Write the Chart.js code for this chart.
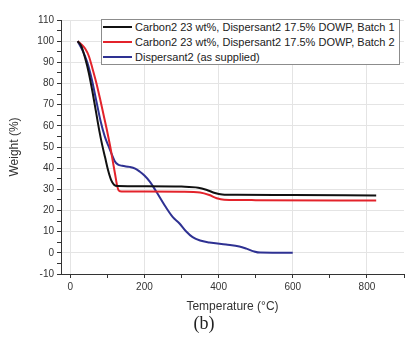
<!DOCTYPE html>
<html>
  <head>
    <meta charset="UTF-8" />
    <title>TGA curves</title>
    <script src="https://cdn.jsdelivr.net/npm/chart.js"></script>
    <style type="text/css">
      body{ margin:0; background:#fff; }
      #wrap{ position:relative; width:411px; height:343px; }
      #legend{
        position:absolute; left:101px; top:19px; width:297px; height:44px;
        border:1px solid #8c8c8c; background:#fff;
        font:11px "Liberation Sans", Arial, sans-serif; color:#222;
      }
      #legend .row{ height:15px; line-height:15px; white-space:nowrap; }
      #legend .swatch{ display:inline-block; width:29px; height:2px; vertical-align:middle; margin:0 3px 2px 1px; }
      #panel{
        position:absolute; left:190px; top:313px; width:28px; text-align:center;
        font:18px "Liberation Serif", "DejaVu Serif", serif; color:#222;
      }
    </style>
  </head>
  <body>
    <div id="wrap">
      <canvas id="tga" width="411" height="343"></canvas>
      <div id="legend"></div>
      <div id="panel">(b)</div>
    </div>

    <script>
      // values
      var seriesLabels = [
        "Carbon2 23 wt%, Dispersant2 17.5% DOWP, Batch 1",
        "Carbon2 23 wt%, Dispersant2 17.5% DOWP, Batch 2",
        "Dispersant2 (as supplied)"
      ];
      var seriesColors = ["#111111", "#e3232b", "#2e3192"];

      var batch1Temp   = [20, 30, 40, 50, 60, 70, 78, 86, 94, 102, 110, 118, 128, 200, 300, 345, 370, 390, 410, 450, 600, 825];
      var batch1Weight = [100, 97.5, 92, 85, 76, 66, 58, 51, 45, 39, 34.5, 32.2, 31.6, 31.5, 31.3, 30.8, 29.6, 28.3, 27.6, 27.4, 27.3, 27.1];

      var batch2Temp   = [20, 30, 40, 50, 60, 70, 80, 90, 100, 108, 115, 121, 126, 130, 134, 145, 200, 300, 350, 375, 395, 415, 500, 825];
      var batch2Weight = [100, 98.5, 96.5, 93, 87, 80.5, 73, 65, 57, 50, 43, 37, 32, 29.6, 29.1, 29, 29, 28.9, 28.5, 27.3, 25.8, 25.1, 24.9, 24.7];

      var dispTemp   = [20, 32, 45, 58, 70, 82, 93, 103, 112, 120, 128, 140, 160, 175, 187, 200, 215, 231, 258, 276, 294, 312, 330, 350, 375, 420, 456, 475, 495, 512, 600];
      var dispWeight = [100, 96, 90.5, 82, 72, 62, 55, 50.5, 46.5, 43.3, 41.8, 41.1, 40.6, 39.8, 38.4, 36.5, 33.5, 29.2, 21.5, 17, 14, 10.2, 7.4, 5.8, 4.9, 3.9, 3.0, 2.0, 0.7, 0.1, 0];

      var xTicks = [0, 100, 200, 300, 400, 500, 600, 700, 800, 900];
      var yTicks = [-10, -5, 0, 5, 10, 15, 20, 25, 30, 35, 40, 45, 50, 55, 60, 65, 70, 75, 80, 85, 90, 95, 100, 105, 110];

      function zip(xs, ys){
        var out = [];
        for (var i = 0; i < xs.length; i++) out.push({ x: xs[i], y: ys[i] });
        return out;
      }

      var temps = [batch1Temp, batch2Temp, dispTemp];
      var weights = [batch1Weight, batch2Weight, dispWeight];
      var datasets = [];
      for (var i = 0; i < 3; i++) {
        datasets.push({
          label: seriesLabels[i],
          data: zip(temps[i], weights[i]),
          borderColor: seriesColors[i],
          backgroundColor: seriesColors[i],
          borderWidth: 2,
          pointRadius: 0,
          fill: false,
          cubicInterpolationMode: 'monotone'
        });
      }

      // html legend with a box round it
      var legend = document.getElementById('legend');
      for (var i = 0; i < 3; i++) {
        var row = document.createElement('div');
        row.className = 'row';
        row.innerHTML = '<span class="swatch" style="background:' + seriesColors[i] + '"></span>' + seriesLabels[i];
        legend.appendChild(row);
      }

      var tickFont = { family: '"Liberation Sans", Arial, sans-serif', size: 10 };
      var titleFont = { family: '"Liberation Sans", Arial, sans-serif', size: 12 };

      new Chart(document.getElementById('tga'), {
        type: 'line',
        data: { datasets: datasets },
        options: {
          responsive: false,
          animation: false,
          devicePixelRatio: 1,
          layout: { padding: { top: 20, right: 7, left: 0, bottom: 0 } },
          plugins: { legend: { display: false }, tooltip: { enabled: false } },
          scales: {
            x: {
              type: 'linear',
              min: -25,
              max: 900,
              afterBuildTicks: function(scale){ scale.ticks = xTicks.map(function(v){ return { value: v }; }); },
              afterFit: function(scale){ scale.height = 69; },
              ticks: {
                color: '#333',
                font: tickFont,
                padding: 3,
                maxRotation: 0,
                autoSkip: false,
                callback: function(v){ return v % 200 === 0 && v < 900 ? v : ''; }
              },
              grid: {
                color: function(c){ return c.tick && c.tick.value % 200 === 0 && c.tick.value < 900 ? '#e4e4e4' : 'rgba(0,0,0,0)'; },
                tickColor: '#333',
                tickLength: 4
              },
              border: { color: '#333', width: 1 },
              title: { display: true, text: 'Temperature (°C)', color: '#333', font: titleFont, padding: { top: 0, bottom: 29 } }
            },
            y: {
              min: -10,
              max: 110,
              afterBuildTicks: function(scale){ scale.ticks = yTicks.map(function(v){ return { value: v }; }); },
              afterFit: function(scale){ scale.width = 61; },
              ticks: {
                color: '#333',
                font: tickFont,
                padding: 3,
                autoSkip: false,
                callback: function(v){ return v % 10 === 0 ? v : ''; }
              },
              grid: {
                color: function(c){ return c.tick && c.tick.value % 10 === 0 ? '#e4e4e4' : 'rgba(0,0,0,0)'; },
                tickColor: '#333',
                tickLength: 4
              },
              border: { color: '#333', width: 1 },
              title: { display: true, text: 'Weight (%)', color: '#333', font: titleFont, padding: { top: 7, bottom: 0 } }
            }
          }
        }
      });
    </script>
  </body>
</html>
